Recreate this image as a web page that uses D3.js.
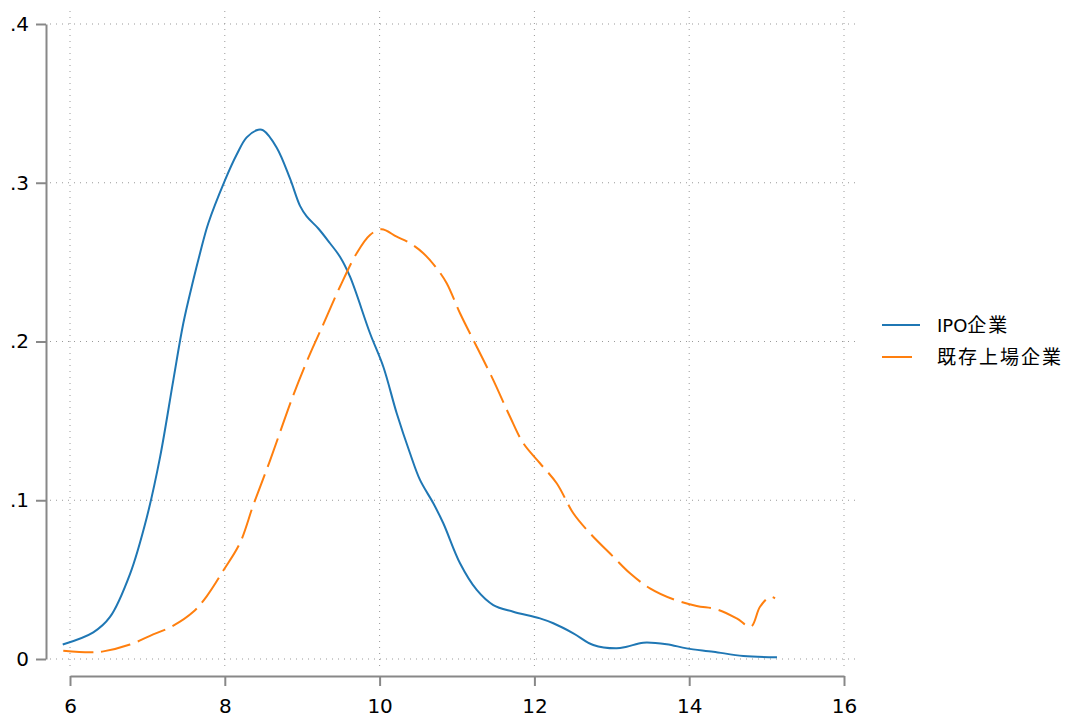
<!DOCTYPE html>
<html>
<head>
<meta charset="utf-8">
<script src="https://cdn.jsdelivr.net/npm/d3@7"></script>
<style>
  body { margin: 0; background: #fff; }
  text { font-family: "DejaVu Sans", Verdana, "Noto Sans CJK JP", sans-serif; fill: #000; }
</style>
</head>
<body>
<svg id="chart" width="1067" height="722"></svg>
<script>
// density curves
const ipoX = [5.906, 6.301, 6.517, 6.775, 6.991, 7.163, 7.335, 7.464, 7.593, 7.680, 7.787, 8.003, 8.154, 8.283, 8.433, 8.497, 8.671, 8.842, 8.972, 9.058, 9.208, 9.359, 9.488, 9.618, 9.876, 10.048, 10.221, 10.393, 10.522, 10.694, 10.823, 11.039, 11.255, 11.469, 11.727, 12.072, 12.244, 12.503, 12.761, 13.063, 13.193, 13.407, 13.709, 13.968, 14.311, 14.699, 15.134];
const ipoY = [0.0091, 0.0168, 0.0265, 0.0535, 0.0890, 0.1270, 0.1757, 0.2115, 0.2387, 0.2556, 0.2745, 0.3017, 0.3178, 0.3286, 0.3334, 0.3330, 0.3221, 0.3027, 0.2854, 0.2788, 0.2712, 0.2619, 0.2534, 0.2408, 0.2052, 0.1841, 0.1548, 0.1296, 0.1128, 0.0981, 0.0855, 0.0603, 0.0435, 0.0340, 0.0298, 0.0256, 0.0225, 0.0162, 0.0088, 0.0067, 0.0077, 0.0103, 0.0093, 0.0067, 0.0046, 0.0019, 0.0011];

const kizonX = [5.913, 6.258, 6.430, 6.775, 7.034, 7.335, 7.593, 7.766, 7.981, 8.196, 8.368, 8.584, 8.885, 9.101, 9.230, 9.488, 9.704, 9.876, 10.027, 10.221, 10.393, 10.565, 10.738, 10.867, 11.039, 11.255, 11.469, 11.685, 11.857, 12.072, 12.288, 12.503, 12.718, 13.019, 13.235, 13.493, 13.795, 14.097, 14.355, 14.614, 14.795, 14.915, 15.044, 15.109];
const kizonY = [0.0052, 0.0042, 0.0048, 0.0091, 0.0146, 0.0210, 0.0297, 0.0395, 0.0557, 0.0731, 0.0969, 0.1250, 0.1662, 0.1922, 0.2062, 0.2345, 0.2556, 0.2671, 0.2707, 0.2660, 0.2619, 0.2556, 0.2461, 0.2367, 0.2178, 0.1967, 0.1757, 0.1526, 0.1359, 0.1233, 0.1107, 0.0918, 0.0792, 0.0644, 0.0540, 0.0445, 0.0376, 0.0334, 0.0313, 0.0256, 0.0203, 0.0329, 0.0392, 0.0382];

const xTicks = [6, 8, 10, 12, 14, 16];
const yTicks = [0, 0.1, 0.2, 0.3, 0.4];
const yTickLabels = ['0', '.1', '.2', '.3', '.4'];
const seriesLatin = ['IPO', ''];
const seriesKanji = ['企業', '既存上場企業'];

const svg = d3.select('#chart');

const x = d3.scaleLinear().domain([6, 16]).range([70, 844]);
const y = d3.scaleLinear().domain([0, 0.4]).range([659, 24]);

// grid
const grid = svg.append('g');
grid.selectAll('line.v')
    .data(xTicks)
    .enter()
    .append('line')
    .attr('x1', d => x(d)).attr('x2', d => x(d))
    .attr('y1', 11).attr('y2', 670)
    .attr('stroke', '#999').attr('stroke-width', 1)
    .attr('stroke-dasharray', '1,5');
grid.selectAll('line.h')
    .data(yTicks)
    .enter()
    .append('line')
    .attr('x1', 50).attr('x2', 860)
    .attr('y1', d => y(d)).attr('y2', d => y(d))
    .attr('stroke', '#999').attr('stroke-width', 1)
    .attr('stroke-dasharray', '1,5');

// axes
const xAxis = d3.axisBottom(x).tickValues(xTicks).tickSize(10).tickPadding(13).tickSizeOuter(0);
const gx = svg.append('g')
    .attr('transform', 'translate(0,676)')
    .call(xAxis);

const yAxis = d3.axisLeft(y).tickValues(yTicks).tickSize(10).tickPadding(7).tickSizeOuter(0)
    .tickFormat((d, i) => yTickLabels[i]);
const gy = svg.append('g')
    .attr('transform', 'translate(46,0)')
    .call(yAxis);

[gx, gy].forEach(g => {
  g.select('.domain').attr('stroke', '#888').attr('stroke-width', 2);
  g.selectAll('.tick line').attr('stroke', '#888').attr('stroke-width', 2);
  g.selectAll('.tick text').attr('font-size', 20)
    .attr('font-family', '"DejaVu Sans", Verdana, sans-serif').attr('fill', '#000');
});

// lines
const line = d3.line()
    .x(d => x(d[0]))
    .y(d => y(d[1]))
    .curve(d3.curveCatmullRom.alpha(0.5));

svg.append('path')
    .datum(d3.zip(ipoX, ipoY))
    .attr('fill', 'none')
    .attr('stroke', '#1f77b4')
    .attr('stroke-width', 2)
    .attr('d', line);

svg.append('path')
    .datum(d3.zip(kizonX, kizonY))
    .attr('fill', 'none')
    .attr('stroke', '#ff7f0e')
    .attr('stroke-width', 2)
    .attr('stroke-dasharray', '30,8')
    .attr('d', line);

// legend
const legend = svg.append('g');
const colors = ['#1f77b4', '#ff7f0e'];
const dashes = [null, '30,8'];
seriesKanji.forEach((kanji, i) => {
  const ly = 325 + i * 32;
  legend.append('line')
      .attr('x1', 882).attr('x2', 920)
      .attr('y1', ly).attr('y2', ly)
      .attr('stroke', colors[i]).attr('stroke-width', 2)
      .attr('stroke-dasharray', dashes[i]);
  const t = legend.append('text')
      .attr('x', 937).attr('y', ly + 7)
      .attr('font-size', 18);
  if (seriesLatin[i]) t.append('tspan').text(seriesLatin[i]);
  t.append('tspan')
      .attr('font-family', '"Noto Sans CJK JP", sans-serif')
      .attr('font-size', 19)
      .attr('letter-spacing', 2)
      .text(kanji);
});
</script>
</body>
</html>
